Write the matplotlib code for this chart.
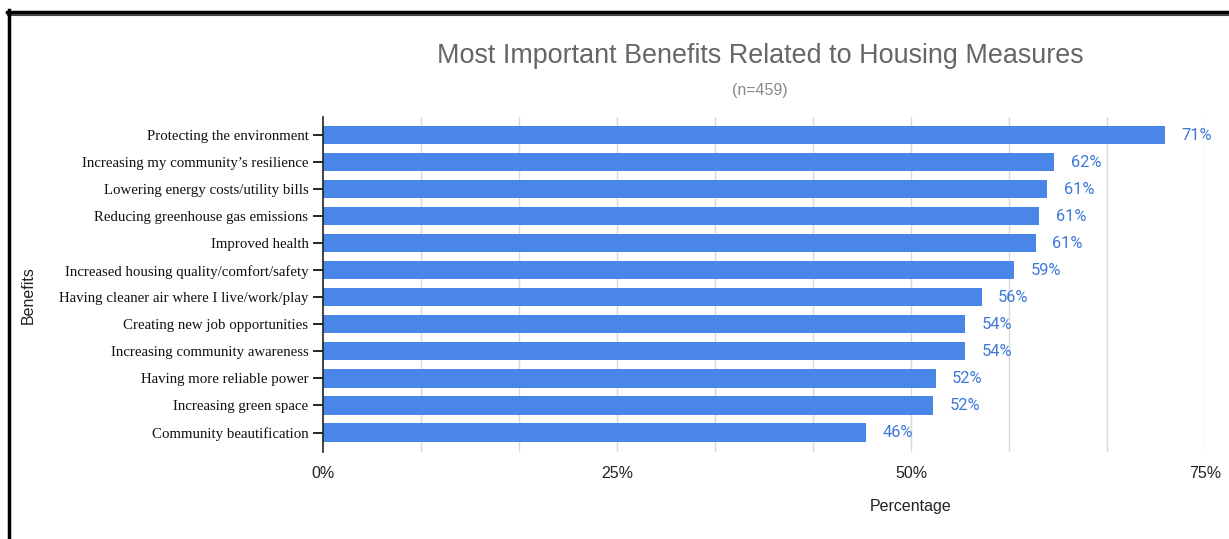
import matplotlib
matplotlib.use("Agg")
import matplotlib.pyplot as plt
from matplotlib.lines import Line2D

categories = [
    "Protecting the environment",
    "Increasing my community\u2019s resilience",
    "Lowering energy costs/utility bills",
    "Reducing greenhouse gas emissions",
    "Improved health",
    "Increased housing quality/comfort/safety",
    "Having cleaner air where I live/work/play",
    "Creating new job opportunities",
    "Increasing community awareness",
    "Having more reliable power",
    "Increasing green space",
    "Community beautification",
]
values = [71.6, 62.2, 61.6, 60.9, 60.6, 58.8, 56.0, 54.6, 54.6, 52.1, 51.9, 46.2]
labels = ["71%", "62%", "61%", "61%", "61%", "59%", "56%", "54%", "54%", "52%", "52%", "46%"]
xticks = [0, 25, 50, 75]
xticklabels = ["0%", "25%", "50%", "75%"]

W, H = 1229, 539
fig = plt.figure(figsize=(W / 100, H / 100), dpi=100)
ax = fig.add_axes([323 / W, 1 - 452 / H, (1205 - 323) / W, (452 - 117) / H])

bar_color = "#4a86e8"
ypos = list(range(len(categories)))
ax.barh(ypos, values, height=0.67, color=bar_color, zorder=3)
for y, v, t in zip(ypos, values, labels):
    ax.text(v + 1.4, y, t, va="center", ha="left", color="#3c78d8",
            fontsize=11.8, family="Roboto")

ax.set_xlim(0, 75)
ax.set_ylim(11.72, -0.67)

# vertical gridlines every 25/3
grid = [i * 25 / 3 for i in range(1, 10)]
for g in grid:
    ax.axvline(g, color="#d9d9d9", lw=1, zorder=1)

ax.set_xticks(xticks)
ax.set_xticklabels(xticklabels, family="Liberation Sans", fontsize=11.5, color="#222222")
ax.tick_params(axis="x", length=0, pad=10)
ax.set_yticks(ypos)
ax.set_yticklabels(categories, family="Liberation Serif", fontsize=10.7, color="#111111")
ax.tick_params(axis="y", direction="inout", length=15, width=1.2, pad=3)

for s in ["top", "right", "bottom"]:
    ax.spines[s].set_visible(False)
ax.spines["left"].set_color("#222222")
ax.spines["left"].set_linewidth(1.2)
ax.spines["left"].set_zorder(4)

fig.text(911 / W, 1 - 506 / H, "Percentage", ha="center", va="center",
         family="Liberation Sans", fontsize=11.5, color="#222222")
fig.text(28 / W, 1 - 295 / H, "Benefits", ha="center", va="center", rotation=90,
         family="Liberation Sans", fontsize=11.5, color="#222222")
fig.text(760 / W, 1 - 56 / H, "Most Important Benefits Related to Housing Measures",
         ha="center", va="center", family="Liberation Sans", fontsize=19.4, color="#666666")
fig.text(760 / W, 1 - 90 / H, "(n=459)", ha="center", va="center",
         family="Liberation Sans", fontsize=11.5, color="#888888")

# border
fig.add_artist(Line2D([7 / W, 1], [1 - 11.5 / H, 1 - 11.5 / H], color="black", lw=2.5,
                      transform=fig.transFigure))
fig.add_artist(Line2D([8 / W, 1], [1 - 15 / H, 1 - 15 / H], color="#444444", lw=1.5,
                      transform=fig.transFigure))
fig.add_artist(Line2D([8.5 / W, 8.5 / W], [1 - 10 / H, 0], color="black", lw=2.5,
                      transform=fig.transFigure))

fig.savefig("out.png", dpi=100)
